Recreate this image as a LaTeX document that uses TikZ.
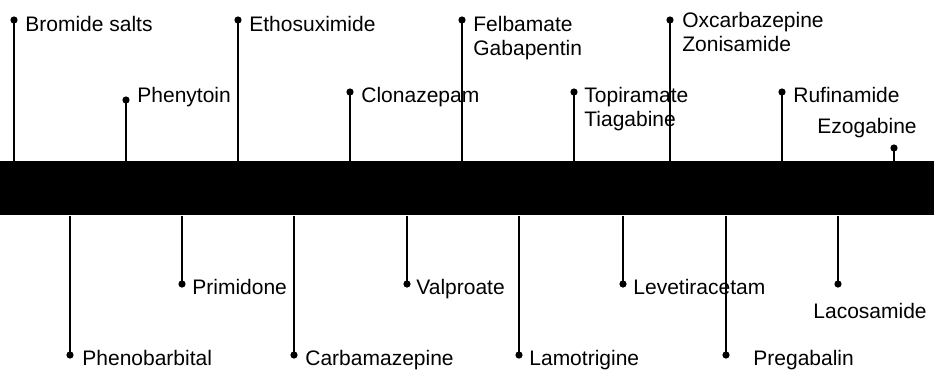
\documentclass[tikz,border=0pt]{standalone}
\usepackage{fontspec}
\setmainfont{Liberation Sans}
\begin{document}
\begin{tikzpicture}[x=0.5pt,y=-0.5pt,
  dot/.style={circle,fill=black,inner sep=0pt,minimum size=3.6pt},
  lbl/.style={anchor=base west,inner sep=0pt,align=left,font=\fontsize{10.5}{12}\selectfont},
  stem/.style={line width=0.6pt}]
\useasboundingbox (0,0) rectangle (934,371);
\node[fill=black,inner sep=0pt,minimum width=467pt,minimum height=27pt,anchor=north west] (bar) at (0,161) {};
% top
\node[dot] (d1) at (14,20) {};   \node[lbl] (t1) at (25,31) {Bromide salts};
\node[dot] (d2) at (126,100) {}; \node[lbl] (t2) at (137,102) {Phenytoin};
\node[dot] (d3) at (238,20) {};  \node[lbl] (t3) at (249,31) {Ethosuximide};
\node[dot] (d4) at (350,92) {};  \node[lbl] (t4) at (361,102) {Clonazepam};
\node[dot] (d5) at (462,20) {};  \node[lbl] (t5) at (473,55) {Felbamate\\Gabapentin};
\node[dot] (d6) at (574,92) {};  \node[lbl] (t6) at (584,126) {Topiramate\\Tiagabine};
\node[dot] (d7) at (670,20) {};  \node[lbl] (t7) at (682,51) {Oxcarbazepine\\Zonisamide};
\node[dot] (d8) at (782,92) {};  \node[lbl] (t8) at (793,102) {Rufinamide};
\node[dot] (d9) at (894,148) {}; \node[lbl] (t9) at (817,133) {Ezogabine};
% bottom
\node[dot] (b1) at (70,355) {};  \node[lbl] (u1) at (82,365) {Phenobarbital};
\node[dot] (b2) at (182,284) {}; \node[lbl] (u2) at (192,294) {Primidone};
\node[dot] (b3) at (294,355) {}; \node[lbl] (u3) at (305,365) {Carbamazepine};
\node[dot] (b4) at (407,284) {}; \node[lbl] (u4) at (416,294) {Valproate};
\node[dot] (b5) at (519,355) {}; \node[lbl] (u5) at (529,365) {Lamotrigine};
\node[dot] (b6) at (623,284) {}; \node[lbl] (u6) at (633,294) {Levetiracetam};
\node[dot] (b7) at (726,355) {}; \node[lbl] (u7) at (753,365) {Pregabalin};
\node[dot] (b8) at (838,284) {}; \node[lbl] (u8) at (813,318) {Lacosamide};
\foreach \n in {d1,d2,d3,d4,d5,d6,d7,d8,d9}
  \draw[stem] (\n.center) -- (\n |- bar.north);
\foreach \n in {b1,b2,b3,b4,b5,b6,b7,b8}
  \draw[stem] (\n.center) -- (\n |- bar.south);
\end{tikzpicture}
\end{document}
